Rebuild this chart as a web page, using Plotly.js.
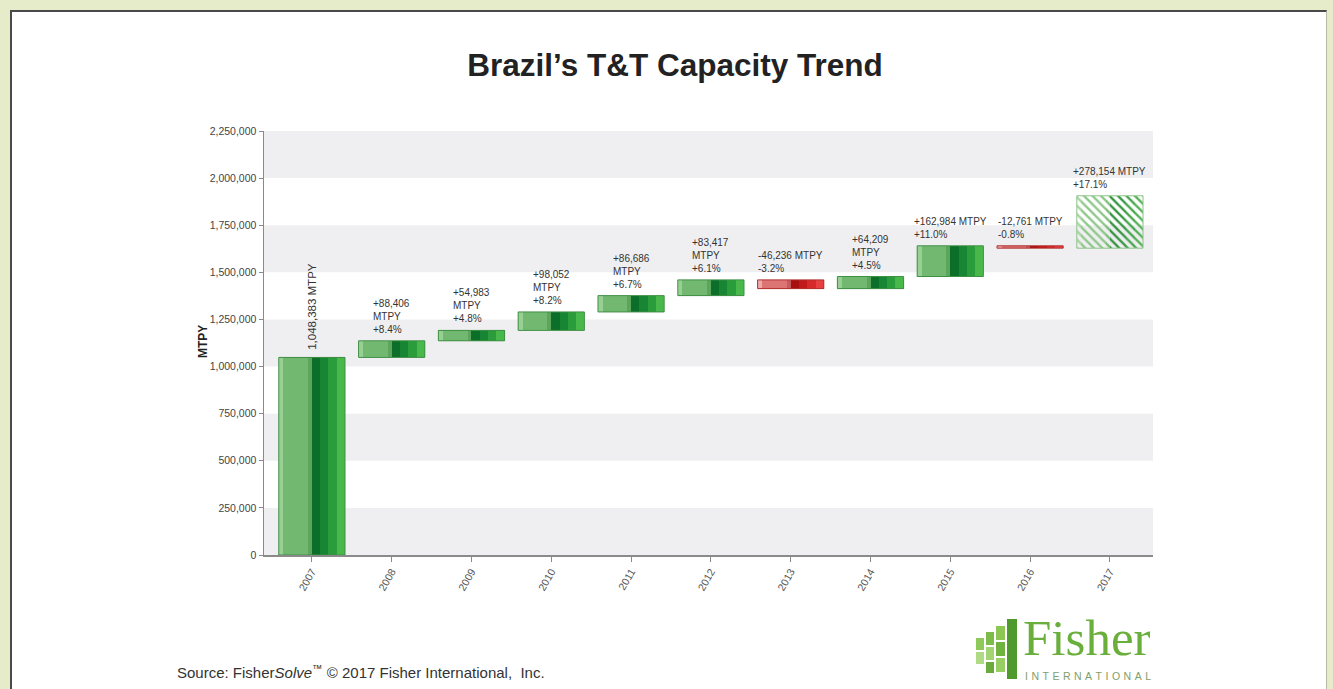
<!DOCTYPE html>
<html>
<head>
<meta charset="utf-8">
<script src="https://cdn.plot.ly/plotly-3.0.1.min.js"></script>
<style>
  html, body { margin:0; padding:0; width:1333px; height:689px; overflow:hidden; background:#E6EBC9; }
  #frame { position:absolute; left:10px; top:10px; width:1314px; height:700px; background:#fff;
           border-left:2px solid #4a4a4a; border-top:2px solid #4a4a4a; border-right:1px solid #b8bca6; }
  #chart { position:absolute; left:0; top:0; width:1333px; height:689px; }
</style>
</head>
<body>
<div id="frame"></div>
<div id="chart"></div>
<script>
// ---- data ----
const years = ['2007','2008','2009','2010','2011','2012','2013','2014','2015','2016','2017'];
const deltas = [1048383, 88406, 54983, 98052, 86686, 83417, -46236, 64209, 162984, -12761, 278154];
const pctLabels = ['', '+8.4%', '+4.8%', '+8.2%', '+6.7%', '+6.1%', '-3.2%', '+4.5%', '+11.0%', '-0.8%', '+17.1%'];
const labelWrap = [false, true, true, true, true, true, false, true, false, false, false];
const forecast = [false, false, false, false, false, false, false, false, false, false, true];
const yTickVals = [0, 250000, 500000, 750000, 1000000, 1250000, 1500000, 1750000, 2000000, 2250000];

// running base for the waterfall
const bases = [];
let run = 0;
deltas.forEach((d, i) => { bases.push(i === 0 ? 0 : run); run += d; });

// ---- styling ----
const HW = 0.415; // half bar width in category units
const strips = [
  {f:-1.00, t:-0.86, g:'#98d094', r:'#eeaaaa', fg:'#a6d4a1', bg:'#e2f1de'},
  {f:-0.86, t:-0.12, g:'#72b870', r:'#dc7474', fg:'#8fc88b', bg:'#dbeed6'},
  {f:-0.12, t: 0.00, g:'#5ca65b', r:'#c75a5a', fg:'#7bbd77', bg:'#d4eacd'},
  {f: 0.00, t: 0.25, g:'#0c6f29', r:'#a81010', fg:'#34913f', bg:'#cbe5c3'},
  {f: 0.25, t: 0.50, g:'#178533', r:'#c01a1a', fg:'#3a9a45', bg:'#c8e4c0'},
  {f: 0.50, t: 0.75, g:'#2b9c3b', r:'#d62a2a', fg:'#45a54d', bg:'#c8e5c0'},
  {f: 0.75, t: 1.00, g:'#48b84a', r:'#e84040', fg:'#58b35a', bg:'#cde8c5'}
];

const xPos = years.map((_, i) => i);
const traces = strips.map(s => ({
  type: 'bar', x: xPos, y: deltas, base: bases,
  offset: s.f * HW, width: (s.t - s.f) * HW,
  hoverinfo: 'skip', showlegend: false,
  marker: {
    color: deltas.map((d, i) => forecast[i] ? s.fg : (d < 0 ? s.r : s.g)),
    line: {width: 0},
    pattern: {
      shape: forecast.map(f => f ? '\\' : ''),
      fgcolor: forecast.map(() => s.fg),
      bgcolor: forecast.map(() => s.bg),
      fgopacity: 1,
      fillmode: 'replace',
      size: 6, solidity: 0.4
    }
  }
}));
// outline
traces.push({
  type: 'bar', x: xPos, y: deltas, base: bases,
  offset: -HW, width: 2 * HW, hoverinfo: 'skip', showlegend: false,
  marker: {
    color: 'rgba(0,0,0,0)',
    line: {width: 1, color: deltas.map((d, i) => forecast[i] ? '#8cc486' : (d < 0 ? '#b23030' : '#3f8f45'))}
  }
});

// pixel helpers for decoration placed outside the plot area
const PX = px => (px - 264) / 889;
const PY = py => (555 - py) / 424;

const fmt = v => Math.abs(v).toLocaleString('en-US');
const annotations = deltas.map((d, i) => {
  const top = Math.max(bases[i], bases[i] + d);
  if (i === 0) {
    return {x: i, y: top, xref:'x', yref:'y', text: fmt(d) + ' MTPY', showarrow:false,
            textangle: -90, xanchor:'center', yanchor:'bottom', yshift: 6,
            font:{family:'Liberation Sans, Arial, sans-serif', size:11.5, color:'#333'}};
  }
  const sign = d < 0 ? '-' : '+';
  const txt = sign + fmt(d) + (labelWrap[i] ? '<br>' : ' ') + 'MTPY<br>' + pctLabels[i];
  return {x: i, y: top, xref:'x', yref:'y', text: txt, showarrow:false,
          xanchor:'center', yanchor:'bottom', align:'left', yshift: 4,
          font:{family:'Liberation Sans Narrow, Arial Narrow, Liberation Sans, sans-serif', size:10, color:'#333'}};
});

const SP = '\u2004';
annotations.push(
  {xref:'paper', yref:'paper', x:0, xshift:-61, y:PY(342), text:'<b>MTPY</b>', showarrow:false,
   textangle:-90, xanchor:'center', yanchor:'middle',
   font:{family:'Liberation Sans, Arial, sans-serif', size:12, color:'#222'}},
  {xref:'paper', yref:'paper', x:PX(175), y:PY(671), text:'Source: Fisher<i>Solve</i><sup>™</sup> © 2017 Fisher International,  Inc.',
   showarrow:false, xanchor:'left', yanchor:'middle',
   font:{family:'Liberation Sans, Arial, sans-serif', size:15, color:'#333'}},
  {xref:'paper', yref:'paper', x:PX(1087), y:PY(638), text:'Fisher', showarrow:false,
   xanchor:'center', yanchor:'middle',
   font:{family:'Liberation Serif, Times New Roman, serif', size:51, color:'#6aae3b'}},
  {xref:'paper', yref:'paper', x:PX(1088), y:PY(676), text:'INTERNATIONAL'.split('').join(SP),
   showarrow:false, xanchor:'center', yanchor:'middle',
   font:{family:'Liberation Sans, Arial, sans-serif', size:10.5, color:'#7f9e6a'}}
);

// alternating background bands
const shapes = [];
for (let k = 0; k < yTickVals.length - 1; k += 2) {
  shapes.push({type:'rect', xref:'paper', yref:'y', x0:0, x1:1, y0:yTickVals[k], y1:yTickVals[k+1],
               fillcolor:'#efeff1', line:{width:0}, layer:'below'});
}
// logo icon blocks (decoration, pixel positions)
const logoBlocks = [
  [1007,619,1017,679,'#4f9a2c'],
  [996,626,1005,640,'#8cc653'],[996,642,1005,656,'#6fb23e'],[996,658,1005,672,'#97cf63'],
  [986,632,994,645,'#7dbc48'],[986,647,994,660,'#a3d474'],[986,662,994,673,'#6aab3b'],
  [976,638,984,650,'#8fc95c'],[976,652,984,664,'#b0da85']
];
logoBlocks.forEach(b => shapes.push({type:'rect', xref:'paper', yref:'paper',
  x0:PX(b[0]), x1:PX(b[2]), y0:PY(b[3]), y1:PY(b[1]), fillcolor:b[4], line:{width:0}}));

const layout = {
  width:1333, height:689,
  margin:{l:264, r:180, t:131, b:134},
  paper_bgcolor:'rgba(0,0,0,0)', plot_bgcolor:'#ffffff',
  barmode:'overlay', bargap:0,
  showlegend:false,
  title:{text:'<b>Brazil’s T&amp;T Capacity Trend</b>', xref:'container', yref:'container',
         x:675/1333, xanchor:'center', y:1 - 65/689, yanchor:'middle',
         font:{family:'Liberation Sans, Arial, sans-serif', size:31.5, color:'#222'}},
  xaxis:{type:'linear', range:[-0.6, 10.54], tickvals: xPos, ticktext: years,
         showline:true, linecolor:'#8a8a8a', linewidth:1.5,
         ticks:'outside', ticklen:5, tickcolor:'#8a8a8a', tickangle:-60, showgrid:false, zeroline:false,
         tickfont:{family:'Liberation Sans, Arial, sans-serif', size:10.5, color:'#555'}, fixedrange:true},
  yaxis:{range:[0, 2250000], tickvals:yTickVals, tickformat:',', showline:true, linecolor:'#8a8a8a', linewidth:1.5,
         ticks:'outside', ticklen:4, tickcolor:'#8a8a8a', showgrid:false, zeroline:false,
         tickfont:{family:'Liberation Sans, Arial, sans-serif', size:10.5, color:'#444'}, fixedrange:true},
  shapes: shapes,
  annotations: annotations
};

Plotly.newPlot('chart', traces, layout, {displayModeBar:false, staticPlot:true});
</script>
</body>
</html>
